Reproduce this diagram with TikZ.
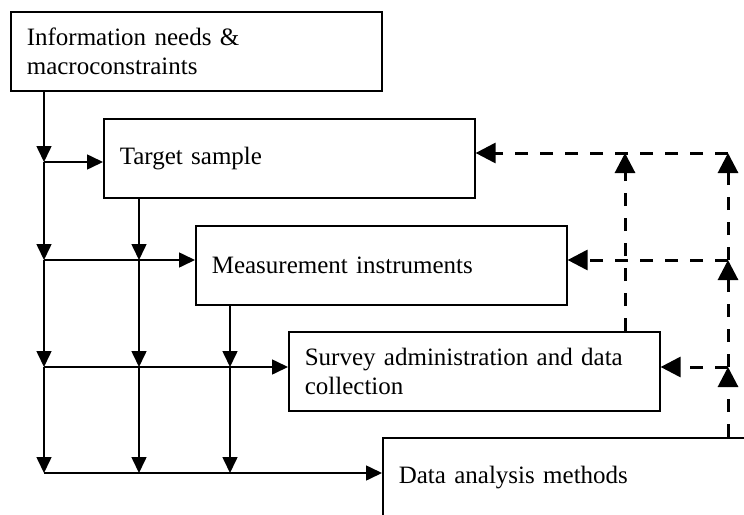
\documentclass[tikz,border=0pt]{standalone}
\usepackage{fontspec}
\setmainfont{Liberation Serif}
\usetikzlibrary{arrows.meta}

\tikzset{
  stagebox/.style={draw, line width=0.8pt, anchor=north west,
    minimum width=185.5pt, minimum height=39.5pt, text width=169.5pt,
    inner xsep=8pt, align=left, font=\fontsize{12.5}{14.5}\selectfont},
  flow/.style={line width=0.8pt, -{Triangle[width=7.5pt,length=8pt]}},
  feedback/.style={line width=1.5pt, dash pattern=on 6.5pt off 6pt,
    -{Triangle[width=10pt,length=10pt]}}
}

\begin{document}
\begin{tikzpicture}[x=0.5pt,y=-0.5pt]
  \useasboundingbox (0,0) rectangle (744,514);
  \clip (0,0) rectangle (744,514);
  % the five stages
  \node[stagebox] (needs) at (10,11) {Information needs \&\\macroconstraints};
  \node[stagebox] (target) at (103,118) {Target sample};
  \node[stagebox] (instr) at (195,225) {Measurement instruments};
  \node[stagebox] (survey) at (288,331) {Survey administration and data\\collection};
  \node[stagebox] (analysis) at (382,437) {Data analysis methods};

  % junctions of the solid grid
  \coordinate (a1) at (44,162);
  \foreach \n/\y in {2/260,3/367,4/473} {
    \coordinate (a\n) at (44,\y);
    \coordinate (b\n) at (139,\y);
  }
  \coordinate (c3) at (230,367);
  \coordinate (c4) at (230,473);
  % junctions of the dashed feedback
  \coordinate (r1) at (728,153);
  \coordinate (r2) at (728,260);
  \coordinate (r3) at (728,367);
  \coordinate (m1) at (625,153);

  % solid forward flow
  \draw[flow] (a1 |- needs.south) -- (a1);
  \draw[flow] (a1) -- (a2);
  \draw[flow] (a2) -- (a3);
  \draw[flow] (a3) -- (a4);
  \draw[flow] (b2 |- target.south) -- (b2);
  \draw[flow] (b2) -- (b3);
  \draw[flow] (b3) -- (b4);
  \draw[flow] (c3 |- instr.south) -- (c3);
  \draw[flow] (c3) -- (c4);
  \draw[flow] (a1) -- (target.west |- a1);
  \draw[flow] (a2) -- (instr.west |- a2);
  \draw[flow] (a3) -- (survey.west |- a3);
  \draw[flow] (a4) -- (analysis.west |- a4);

  % dashed feedback
  \draw[feedback] (r3 |- analysis.north) -- (r3);
  \draw[feedback] (r3) -- (r2);
  \draw[feedback] (r2) -- (r1);
  \draw[feedback] (m1 |- survey.north) -- (m1);
  \draw[feedback] (r1) -- (target.east |- r1);
  \draw[feedback] (r2) -- (instr.east |- r2);
  \draw[feedback] (r3) -- (survey.east |- r3);
\end{tikzpicture}
\end{document}
